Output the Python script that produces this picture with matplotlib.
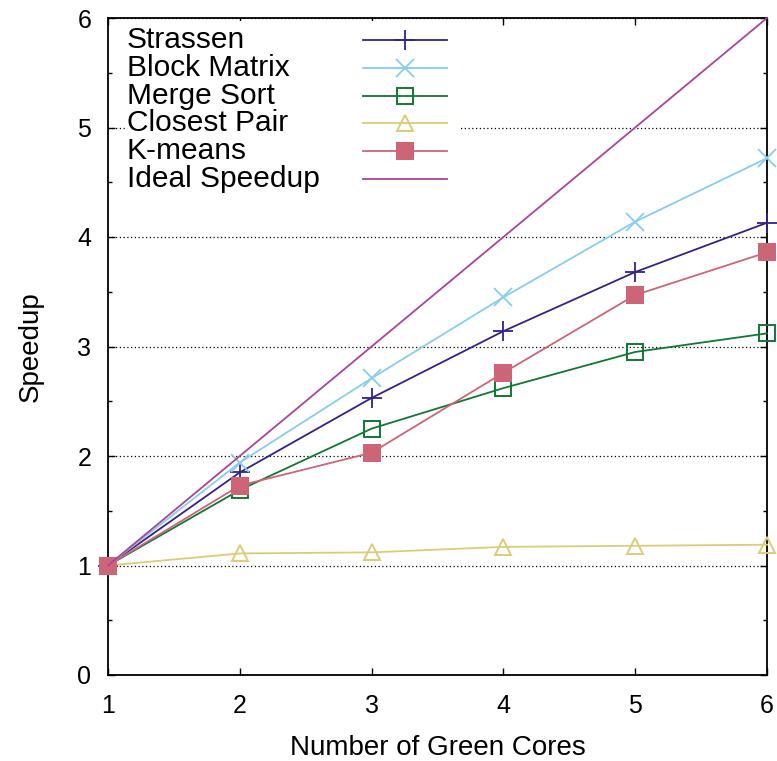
import matplotlib
matplotlib.use("Agg")
import matplotlib.pyplot as plt
from matplotlib.patches import Rectangle

plt.rcParams['font.family'] = ['Liberation Sans', 'DejaVu Sans']

# data
cores = [1, 2, 3, 4, 5, 6]
strassen = [1.0, 1.85, 2.53, 3.14, 3.68, 4.13]
block_matrix = [1.0, 1.94, 2.71, 3.45, 4.14, 4.72]
merge_sort = [1.0, 1.69, 2.25, 2.62, 2.95, 3.12]
closest_pair = [1.0, 1.11, 1.12, 1.17, 1.18, 1.19]
kmeans = [1.0, 1.73, 2.03, 2.76, 3.47, 3.86]
ideal = [1, 2, 3, 4, 5, 6]

labels = ["Strassen", "Block Matrix", "Merge Sort", "Closest Pair", "K-means", "Ideal Speedup"]
series = [strassen, block_matrix, merge_sort, closest_pair, kmeans, ideal]
colors = ["#332288", "#88CCEE", "#117733", "#DDCC77", "#CC6677", "#AA4499"]
styles = [
    dict(marker="+", ms=14, mew=1.3, mfc="none"),
    dict(marker="x", ms=13, mew=1.3, mfc="none"),
    dict(marker="s", ms=12, mew=1.4, mfc="none"),
    dict(marker="^", ms=12, mew=1.4, mfc="none"),
    dict(marker="s", ms=13, mew=0),
    dict(marker=None),
]

fig = plt.figure(figsize=(7.77, 7.61), dpi=100)
ax = fig.add_axes([108 / 777, 86 / 761, 659 / 777, 657 / 761])

for vals, col, st in zip(series, colors, styles):
    ax.plot(cores, vals, color=col, lw=1.3, zorder=3, clip_on=False, **st)

ax.set_xlim(1, 6)
ax.set_ylim(0, 6)
ax.set_xticks(cores)
ax.set_yticks(range(7))
ax.set_yticks([0.5, 1.5, 2.5, 3.5, 4.5, 5.5], minor=True)
ax.tick_params(which="both", direction="in", top=True, right=True, labelsize=18)
ax.tick_params(which="major", length=5, width=1)
ax.tick_params(which="minor", length=3, width=1)
ax.tick_params(axis="x", pad=14)
ax.tick_params(axis="y", pad=12)
for s in ax.spines.values():
    s.set_linewidth(1.3)

# dotted horizontal grid
ax.set_axisbelow(True)
ax.yaxis.grid(True, which="major", linestyle=(0, (1, 2)), color="black", lw=0.9)

ax.set_xlabel("Number of Green Cores", fontsize=20, labelpad=12)
ax.set_ylabel("Speedup", fontsize=20, labelpad=24)

# gnuplot-style key: text left, sample on right, opaque background
ax.add_patch(Rectangle((0.026, 0.73), 0.508, 0.265, transform=ax.transAxes,
                       facecolor="white", edgecolor="none", zorder=1))
y0 = 0.9665
dy = 0.0423
for i, (lab, col, st) in enumerate(zip(labels, colors, styles)):
    y = y0 - i * dy
    ax.text(0.0288, y, lab, transform=ax.transAxes, fontsize=21.5,
            va="center", ha="left", zorder=4)
    ax.plot([0.387, 0.514], [y, y], color=col, lw=1.3, transform=ax.transAxes, zorder=4)
    if st["marker"] is not None:
        ax.plot([0.451], [y], color=col, transform=ax.transAxes, zorder=4, **st)

fig.savefig("out.png", dpi=100)
